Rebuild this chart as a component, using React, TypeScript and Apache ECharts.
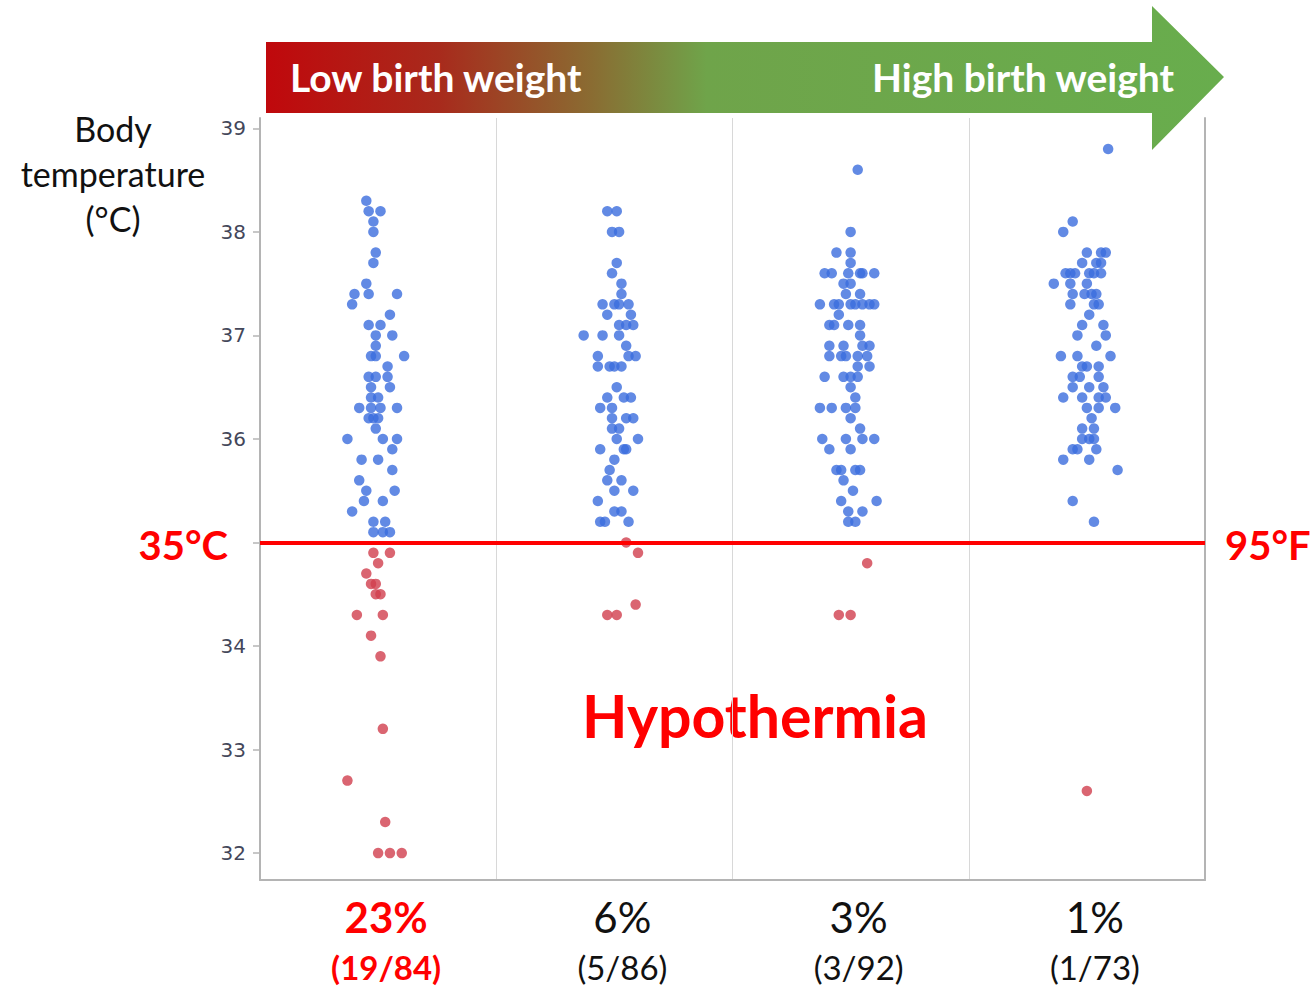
import React, { useEffect, useRef } from "react";
import * as echarts from "echarts";

// [column position (jitter included), body temperature °C]
const normalCol1: number[][] = [
  [0.45, 38.3], [0.46, 38.2], [0.51, 38.2], [0.48, 38.1], [0.48, 38.0], [0.49, 37.8], [0.48, 37.7],
  [0.45, 37.5], [0.40, 37.4], [0.46, 37.4], [0.58, 37.4], [0.39, 37.3], [0.55, 37.2], [0.46, 37.1],
  [0.51, 37.1], [0.49, 37.0], [0.56, 37.0], [0.49, 36.9], [0.47, 36.8], [0.49, 36.8], [0.61, 36.8],
  [0.54, 36.7], [0.46, 36.6], [0.49, 36.6], [0.54, 36.6], [0.47, 36.5], [0.55, 36.5], [0.47, 36.4],
  [0.50, 36.4], [0.42, 36.3], [0.47, 36.3], [0.51, 36.3], [0.58, 36.3], [0.46, 36.2], [0.48, 36.2],
  [0.50, 36.2], [0.49, 36.1], [0.37, 36.0], [0.52, 36.0], [0.58, 36.0], [0.56, 35.9], [0.43, 35.8],
  [0.50, 35.8], [0.56, 35.7], [0.42, 35.6], [0.45, 35.5], [0.57, 35.5], [0.44, 35.4], [0.52, 35.4],
  [0.39, 35.3], [0.48, 35.2], [0.53, 35.2], [0.48, 35.1], [0.52, 35.1], [0.55, 35.1],
];
const hypoCol1: number[][] = [
  [0.48, 34.9], [0.55, 34.9], [0.50, 34.8], [0.45, 34.7], [0.47, 34.6], [0.49, 34.6], [0.49, 34.5],
  [0.51, 34.5], [0.41, 34.3], [0.52, 34.3], [0.47, 34.1], [0.51, 33.9], [0.52, 33.2], [0.37, 32.7],
  [0.53, 32.3], [0.50, 32.0], [0.55, 32.0], [0.60, 32.0],
];
const normalCol2: number[][] = [
  [1.47, 38.2], [1.51, 38.2], [1.49, 38.0], [1.52, 38.0], [1.51, 37.7], [1.49, 37.6], [1.53, 37.5],
  [1.53, 37.4], [1.45, 37.3], [1.50, 37.3], [1.52, 37.3], [1.56, 37.3], [1.47, 37.2], [1.57, 37.2],
  [1.52, 37.1], [1.55, 37.1], [1.58, 37.1], [1.37, 37.0], [1.45, 37.0], [1.52, 37.0], [1.55, 36.9],
  [1.43, 36.8], [1.56, 36.8], [1.59, 36.8], [1.43, 36.7], [1.48, 36.7], [1.50, 36.7], [1.53, 36.7],
  [1.51, 36.5], [1.47, 36.4], [1.54, 36.4], [1.57, 36.4], [1.44, 36.3], [1.49, 36.3], [1.49, 36.2],
  [1.55, 36.2], [1.58, 36.2], [1.49, 36.1], [1.52, 36.1], [1.51, 36.0], [1.60, 36.0], [1.44, 35.9],
  [1.54, 35.9], [1.55, 35.9], [1.50, 35.8], [1.48, 35.7], [1.47, 35.6], [1.53, 35.6], [1.50, 35.5],
  [1.58, 35.5], [1.43, 35.4], [1.50, 35.3], [1.53, 35.3], [1.44, 35.2], [1.46, 35.2], [1.56, 35.2],
];
const hypoCol2: number[][] = [
  [1.55, 35.0], [1.60, 34.9], [1.59, 34.4], [1.47, 34.3], [1.51, 34.3],
];
const normalCol3: number[][] = [
  [2.53, 38.6], [2.50, 38.0], [2.44, 37.8], [2.50, 37.8], [2.50, 37.7], [2.39, 37.6], [2.42, 37.6],
  [2.49, 37.6], [2.54, 37.6], [2.55, 37.6], [2.60, 37.6], [2.47, 37.5], [2.50, 37.5], [2.48, 37.4],
  [2.54, 37.4], [2.37, 37.3], [2.43, 37.3], [2.45, 37.3], [2.50, 37.3], [2.52, 37.3], [2.55, 37.3],
  [2.58, 37.3], [2.60, 37.3], [2.45, 37.2], [2.41, 37.1], [2.43, 37.1], [2.49, 37.1], [2.54, 37.1],
  [2.54, 37.0], [2.41, 36.9], [2.47, 36.9], [2.55, 36.9], [2.58, 36.9], [2.41, 36.8], [2.46, 36.8],
  [2.48, 36.8], [2.53, 36.8], [2.57, 36.8], [2.53, 36.7], [2.58, 36.7], [2.39, 36.6], [2.47, 36.6],
  [2.50, 36.6], [2.53, 36.6], [2.50, 36.5], [2.52, 36.4], [2.37, 36.3], [2.42, 36.3], [2.48, 36.3],
  [2.52, 36.3], [2.50, 36.2], [2.54, 36.1], [2.38, 36.0], [2.48, 36.0], [2.55, 36.0], [2.60, 36.0],
  [2.41, 35.9], [2.50, 35.9], [2.44, 35.7], [2.46, 35.7], [2.52, 35.7], [2.54, 35.7], [2.47, 35.6],
  [2.51, 35.5], [2.46, 35.4], [2.61, 35.4], [2.49, 35.3], [2.55, 35.3], [2.49, 35.2], [2.52, 35.2],
];
const hypoCol3: number[][] = [[2.57, 34.8], [2.45, 34.3], [2.50, 34.3]];
const normalCol4: number[][] = [
  [3.59, 38.8], [3.44, 38.1], [3.40, 38.0], [3.50, 37.8], [3.56, 37.8], [3.58, 37.8], [3.48, 37.7],
  [3.54, 37.7], [3.56, 37.7], [3.41, 37.6], [3.43, 37.6], [3.45, 37.6], [3.51, 37.6], [3.53, 37.6],
  [3.56, 37.6], [3.36, 37.5], [3.43, 37.5], [3.50, 37.5], [3.44, 37.4], [3.49, 37.4], [3.52, 37.4],
  [3.54, 37.4], [3.43, 37.3], [3.53, 37.3], [3.55, 37.3], [3.51, 37.2], [3.48, 37.1], [3.57, 37.1],
  [3.46, 37.0], [3.58, 37.0], [3.54, 36.9], [3.39, 36.8], [3.46, 36.8], [3.60, 36.8], [3.48, 36.7],
  [3.50, 36.7], [3.55, 36.7], [3.44, 36.6], [3.47, 36.6], [3.55, 36.6], [3.44, 36.5], [3.51, 36.5],
  [3.57, 36.5], [3.40, 36.4], [3.48, 36.4], [3.55, 36.4], [3.58, 36.4], [3.50, 36.3], [3.55, 36.3],
  [3.62, 36.3], [3.52, 36.2], [3.48, 36.1], [3.53, 36.1], [3.48, 36.0], [3.51, 36.0], [3.53, 36.0],
  [3.44, 35.9], [3.46, 35.9], [3.54, 35.9], [3.40, 35.8], [3.51, 35.8], [3.63, 35.7], [3.44, 35.4],
  [3.53, 35.2],
];
const hypoCol4: number[][] = [[3.50, 32.6]];

const yTicks = [32, 33, 34, 35, 36, 37, 38, 39];
const yTickLabels = [32, 33, 34, 36, 37, 38, 39];
const percentLabels = ["23%", "6%", "3%", "1%"];
const countLabels = ["(19/84)", "(5/86)", "(3/92)", "(1/73)"];
const thresholdC = 35;

const BLUE = "#3b6ddd";
const RED = "#d13f4e";
const FONT = "Lato, 'Open Sans', sans-serif";

export default function App() {
  const ref = useRef<HTMLDivElement>(null);
  useEffect(() => {
    if (!ref.current) return;
    const chart = echarts.init(ref.current, null, { renderer: "svg" });
    const normal = [...normalCol1, ...normalCol2, ...normalCol3, ...normalCol4];
    const hypo = [...hypoCol1, ...hypoCol2, ...hypoCol3, ...hypoCol4];
    chart.setOption({
      animation: false,
      textStyle: { fontFamily: FONT },
      grid: { left: 260, right: 109, top: 118, bottom: 110 },
      xAxis: [
        {
          type: "value",
          min: 0,
          max: 4,
          interval: 1,
          axisLine: { show: false },
          axisTick: { show: false },
          axisLabel: { show: false },
          splitLine: { show: true, lineStyle: { color: "#d8d8d8", width: 1 } },
        },
        {
          type: "category",
          data: percentLabels,
          position: "bottom",
          axisLine: { show: true, lineStyle: { color: "#b4b4b4", width: 2 } },
          axisTick: { show: false },
          splitLine: { show: false },
          axisLabel: {
            margin: 12,
            padding: [0, 0, 0, 16],
            formatter: (v: string, i: number) =>
              i === 0 ? `{r|${v}}\n{rs|${countLabels[i]}}` : `{b|${v}}\n{bs|${countLabels[i]}}`,
            rich: {
              r: { fontSize: 42, fontWeight: "bold", color: "#ff0000", lineHeight: 50, fontFamily: FONT },
              rs: { fontSize: 33, fontWeight: "bold", color: "#ff0000", lineHeight: 50, fontFamily: FONT },
              b: { fontSize: 42, color: "#111", lineHeight: 50, fontFamily: FONT },
              bs: { fontSize: 33, color: "#111", lineHeight: 50, fontFamily: FONT },
            },
          },
        },
      ],
      yAxis: [
        {
          type: "value",
          min: 31.74,
          max: 39.1,
          axisLine: { show: true, lineStyle: { color: "#b4b4b4", width: 2 } },
          axisTick: { show: true, customValues: yTicks, length: 7, lineStyle: { color: "#b4b4b4", width: 1.5 } },
          axisLabel: {
            customValues: yTickLabels,
            margin: 14,
            fontSize: 20,
            color: "#44475a",
            fontFamily: "'DejaVu Sans', sans-serif",
          },
          splitLine: { show: false },
        },
        {
          type: "value",
          position: "right",
          min: 31.74,
          max: 39.1,
          axisLine: { show: true, lineStyle: { color: "#b4b4b4", width: 2 } },
          axisTick: { show: false },
          axisLabel: { show: false },
          splitLine: { show: false },
        },
      ],
      series: [
        {
          name: "Normal",
          type: "scatter",
          xAxisIndex: 0,
          yAxisIndex: 0,
          data: normal,
          symbolSize: 10.5,
          itemStyle: { color: BLUE },
          z: 3,
        },
        {
          name: "Hypothermia",
          type: "scatter",
          xAxisIndex: 0,
          yAxisIndex: 0,
          data: hypo,
          symbolSize: 10.5,
          itemStyle: { color: RED },
          z: 3,
          markLine: {
            silent: true,
            symbol: ["none", "none"],
            label: { show: false },
            lineStyle: { color: "#ff0000", width: 4, type: "solid" },
            data: [{ yAxis: thresholdC }],
            z: 5,
          },
        },
      ],
      graphic: [
        {
          type: "polygon",
          shape: {
            points: [
              [266, 42], [1152, 42], [1152, 6], [1224, 77], [1152, 150], [1152, 113], [266, 113],
            ],
          },
          style: {
            fill: new echarts.graphic.LinearGradient(0, 0, 1, 0, [
              { offset: 0, color: "#c0080c" },
              { offset: 0.18, color: "#a82a1c" },
              { offset: 0.34, color: "#8a6c32" },
              { offset: 0.46, color: "#6fa44a" },
              { offset: 1, color: "#68ad4d" },
            ]),
          },
          z: 10,
        },
        {
          type: "text",
          x: 290,
          y: 77,
          style: { text: "Low birth weight", fill: "#fff", font: `bold 39px ${FONT}`, verticalAlign: "middle" },
          z: 11,
        },
        {
          type: "text",
          x: 1174,
          y: 77,
          style: { text: "High birth weight", fill: "#fff", font: `bold 39px ${FONT}`, align: "right", verticalAlign: "middle" },
          z: 11,
        },
        {
          type: "text",
          x: 113,
          y: 128,
          style: { text: "Body", fill: "#111", font: `34px ${FONT}`, align: "center", verticalAlign: "middle" },
        },
        {
          type: "text",
          x: 113,
          y: 173,
          style: { text: "temperature", fill: "#111", font: `34px ${FONT}`, align: "center", verticalAlign: "middle" },
        },
        {
          type: "text",
          x: 113,
          y: 218,
          style: { text: "(°C)", fill: "#111", font: `34px ${FONT}`, align: "center", verticalAlign: "middle" },
        },
        {
          type: "text",
          x: 228,
          y: 545,
          style: { text: "35°C", fill: "#ff0000", font: `bold 40px ${FONT}`, align: "right", verticalAlign: "middle" },
        },
        {
          type: "text",
          x: 1225,
          y: 545,
          style: { text: "95°F", fill: "#ff0000", font: `bold 40px ${FONT}`, align: "left", verticalAlign: "middle" },
        },
        {
          type: "text",
          x: 755,
          y: 715,
          style: { text: "Hypothermia", fill: "#ff0000", font: `bold 59px ${FONT}`, align: "center", verticalAlign: "middle" },
        },
      ],
    });
    return () => chart.dispose();
  }, []);
  return (
    <div
      ref={ref}
      style={{ position: "fixed", left: 0, top: 0, width: 1314, height: 990, background: "#fff" }}
    />
  );
}
